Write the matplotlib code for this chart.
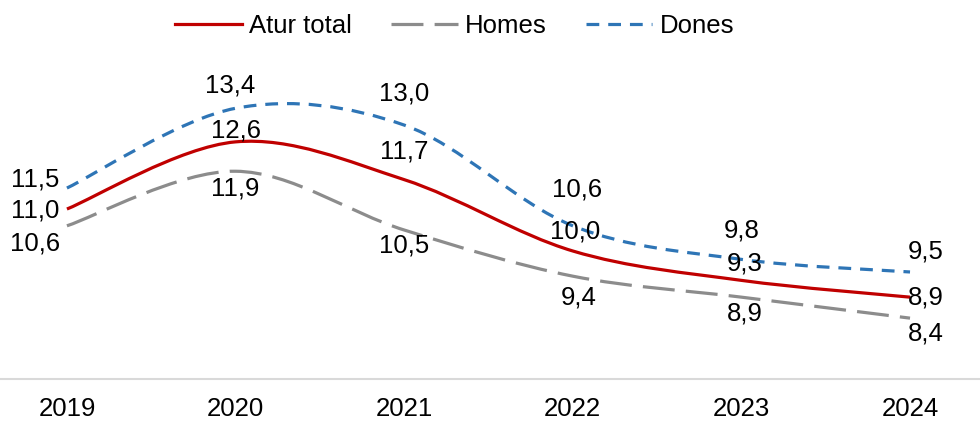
import matplotlib
matplotlib.use("Agg")
import matplotlib.pyplot as plt
from matplotlib.path import Path
from matplotlib.patches import PathPatch
from matplotlib.lines import Line2D

years = ["2019", "2020", "2021", "2022", "2023", "2024"]
atur_total = [11.0, 12.6, 11.7, 10.0, 9.3, 8.9]
homes = [10.6, 11.9, 10.5, 9.4, 8.9, 8.4]
dones = [11.5, 13.4, 13.0, 10.6, 9.8, 9.5]

# label offsets in pixels (dx, dy)
off_atur = [(-32, -1), (0, 11), (0, 28), (2, 19), (3, 17), (16, 0)]
off_homes = [(-32, -18), (0, -17), (0, -15), (6, -21), (3, -16), (16, -15)]
off_dones = [(-32, 9), (-5, 23), (0, 32), (4, 36), (0, 29), (16, 20)]

plt.rcParams['font.family'] = ['Liberation Sans', 'DejaVu Sans']


def smooth_path(xs, ys):
    # excel style smoothed line, cubic bezier segments
    pts = list(zip(xs, ys))
    n = len(pts)
    verts = [pts[0]]
    codes = [Path.MOVETO]
    for i in range(n - 1):
        p0 = pts[i - 1] if i > 0 else pts[i]
        p1 = pts[i]
        p2 = pts[i + 1]
        p3 = pts[i + 2] if i + 2 < n else pts[i + 1]
        c1 = (p1[0] + (p2[0] - p0[0]) / 6, p1[1] + (p2[1] - p0[1]) / 6)
        c2 = (p2[0] - (p3[0] - p1[0]) / 6, p2[1] - (p3[1] - p1[1]) / 6)
        verts += [c1, c2, p2]
        codes += [Path.CURVE4] * 3
    return Path(verts, codes)


fig = plt.figure(figsize=(9.8, 4.21), dpi=100)
ax = fig.add_axes([0, 42 / 421, 1, 379 / 421])
x = list(range(len(years)))

series = [
    ("Atur total", atur_total, "#C00000", "-", off_atur),
    ("Homes", homes, "#8C8C8C", (0, (10, 3.5)), off_homes),
    ("Dones", dones, "#2E75B6", (0, (4, 2.8)), off_dones),
]

handles = []
for name, vals, col, ls, offs in series:
    p = PathPatch(smooth_path(x, vals), fill=False, edgecolor=col,
                  linewidth=2.3, linestyle=ls, capstyle='butt')
    ax.add_patch(p)
    handles.append(Line2D([], [], color=col, lw=2.3, linestyle=ls, label=name))
    for xi, v, (dx, dy) in zip(x, vals, offs):
        ax.annotate(("%.1f" % v).replace(".", ","), (xi, v), xytext=(dx, dy),
                    textcoords='offset pixels', ha='center', va='center',
                    fontsize=18.5, color='black')

ax.set_xlim(-0.397, 5.415)
ax.set_ylim(6.95, 15.98)
ax.set_xticks(x)
ax.set_xticklabels(years, fontsize=18.5)
ax.set_yticks([])
ax.tick_params(axis='x', length=0, pad=13)
for s in ['top', 'right', 'left']:
    ax.spines[s].set_visible(False)
ax.spines['bottom'].set_color('#D9D9D9')
ax.spines['bottom'].set_linewidth(1.5)

fig.legend(handles=handles, loc='center', bbox_to_anchor=(0.464, 1 - 26 / 421),
           ncol=3, frameon=False, fontsize=18.5, handlelength=2.6,
           handletextpad=0.3, columnspacing=1.5)

fig.savefig("out.png", dpi=100)
